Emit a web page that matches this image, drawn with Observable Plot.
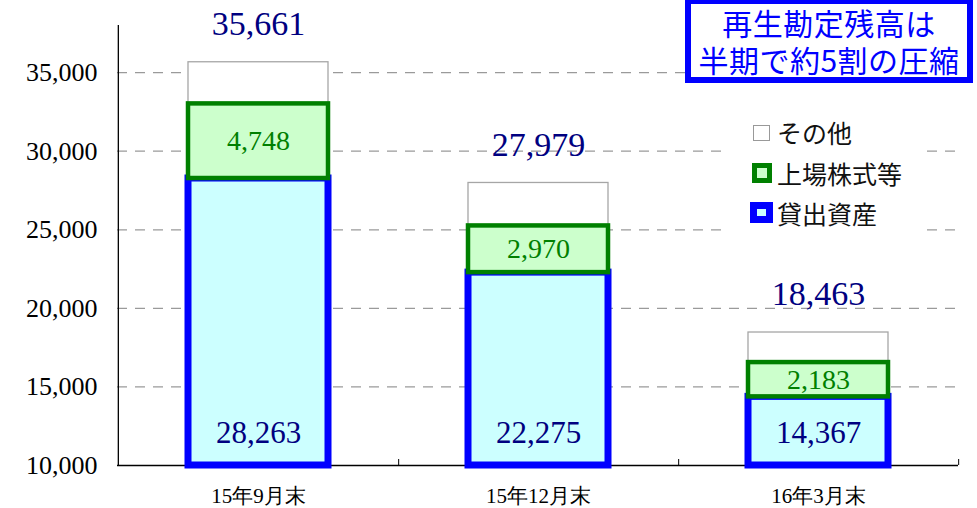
<!DOCTYPE html>
<html>
<head>
<meta charset="utf-8">
<script src="https://cdn.jsdelivr.net/npm/d3@7"></script>
<script src="https://cdn.jsdelivr.net/npm/@observablehq/plot@0.6"></script>
<style>
  html, body { margin: 0; padding: 0; background: #fff; }
  #wrap { position: relative; width: 977px; height: 508px; overflow: hidden; }
  #title {
    position: absolute; left: 685px; top: -2px; width: 288px; height: 85px;
    box-sizing: border-box; border: 6px solid #0000ff; background: #fff;
    color: #0000ff; font-family: "Noto Sans CJK JP", sans-serif; font-size: 30px;
    line-height: 37px; text-align: center; letter-spacing: 0.5px; white-space: nowrap;
  }
  #legend {
    position: absolute; left: 726px; top: 112px; width: 197px; height: 124px; background: #fff;
    font-family: "Noto Sans CJK JP", sans-serif; font-size: 25px; color: #111;
  }
  .sw { position: absolute; box-sizing: border-box; }
  .lt { position: absolute; left: 51px; line-height: 28px; white-space: nowrap; }
</style>
</head>
<body>
<div id="wrap">
  <div id="chart"></div>
  <div id="title"></div>
  <div id="legend"></div>
</div>
<script>
const categories = ["15年9月末", "15年12月末", "16年3月末"];
const loans = [28263, 22275, 14367];
const stocks = [4748, 2970, 2183];
const totals = [35661, 27979, 18463];
const yTicks = [10000, 15000, 20000, 25000, 30000, 35000];
const gridTicks = [15000, 20000, 25000, 30000, 35000];
const yDomain = [10000, 38000];
const titleLines = ["再生勘定残高は", "半期で約5割の圧縮"];
const seriesNames = ["その他", "上場株式等", "貸出資産"];

const yMin = yDomain[0];
const fmt = d3.format(",");
const rows = categories.map((c, i) => ({
  cat: c,
  loans: loans[i],
  stocks: stocks[i],
  total: totals[i],
  other: totals[i] - loans[i] - stocks[i],
  loanTop: loans[i],
  stockTop: loans[i] + stocks[i]
}));

const W = 977, H = 508, ML = 117, MR = 19, MT = 25, MB = 43;
const bw = (W - ML - MR) / categories.length;
const serif = "'Liberation Serif', 'Times New Roman', serif";

const chart = Plot.plot({
  width: W, height: H,
  marginLeft: ML, marginRight: MR, marginTop: MT, marginBottom: MB,
  style: { fontFamily: serif, background: "#fff", color: "#000" },
  x: { type: "band", domain: categories, padding: 0, label: null },
  y: { domain: yDomain, label: null },
  marks: [
    Plot.ruleY(gridTicks, { stroke: "#9a9a9a", strokeWidth: 1.2, strokeDasharray: "10,8" }),
    Plot.ruleY([yMin], { stroke: "#000", strokeWidth: 1.3 }),
    Plot.ruleX([categories[0]], { dx: -bw / 2, stroke: "#000", strokeWidth: 1.3 }),
    Plot.ruleX(categories, { dx: bw / 2, insetTop: H - MT - MB - 6, stroke: "#000" }),
    Plot.barY(rows, { x: "cat", y1: yMin, y2: "loanTop", insetLeft: 70, insetRight: 70,
      fill: "#ccffff", stroke: "#0000ff", strokeWidth: 7 }),
    Plot.barY(rows, { x: "cat", y1: "stockTop", y2: "total", insetLeft: 70, insetRight: 70,
      fill: "#ffffff", stroke: "#a6a6a6", strokeWidth: 1.3 }),
    Plot.barY(rows, { x: "cat", y1: "loanTop", y2: "stockTop", insetLeft: 70, insetRight: 70,
      fill: "#ccffcc", stroke: "#008000", strokeWidth: 4.5 }),
    Plot.axisY({ ticks: yTicks, tickFormat: fmt, tickSize: 0, tickPadding: 20,
      fontSize: 26, fontFamily: serif, fill: "#000" }),
    Plot.axisX({ tickSize: 0, tickPadding: 23, fontSize: 21, fontFamily: serif, fill: "#000" }),
    Plot.text(rows, { x: "cat", y: "total", text: d => fmt(d.total), dy: -38,
      fontSize: 34, fill: "#000080", fontFamily: serif }),
    Plot.text(rows, { x: "cat", y: d => d.loanTop + d.stocks / 2, text: d => fmt(d.stocks),
      fontSize: 28, fill: "#008000", fontFamily: serif }),
    Plot.text(rows, { x: "cat", y: yMin, text: d => fmt(d.loans), dy: -32,
      fontSize: 31, fill: "#000080", fontFamily: serif })
  ]
});
document.getElementById("chart").appendChild(chart);

document.getElementById("title").innerHTML = titleLines.join("<br>");

const lg = document.getElementById("legend");
const swatches = [
  { top: 13, left: 27, w: 17, h: 16, border: "1px solid #999", bg: "#fff", ty: 6 },
  { top: 51, left: 26, w: 20, h: 20, border: "5px solid #008000", bg: "#ccffcc", ty: 47 },
  { top: 90, left: 24, w: 23, h: 21, border: "7px solid #0000ff", bg: "#ccffff", ty: 87 }
];
swatches.forEach((s, i) => {
  const sw = document.createElement("div");
  sw.className = "sw";
  Object.assign(sw.style, { top: s.top + "px", left: s.left + "px", width: s.w + "px",
    height: s.h + "px", border: s.border, background: s.bg });
  lg.appendChild(sw);
  const t = document.createElement("div");
  t.className = "lt";
  t.style.top = s.ty + "px";
  t.textContent = seriesNames[i];
  lg.appendChild(t);
});
</script>
</body>
</html>
